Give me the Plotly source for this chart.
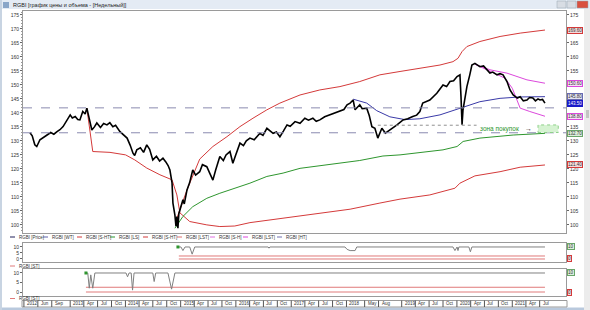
import plotly.graph_objects as go

W, H = 590, 310


def px(x):
    return x / W


def py(y):
    return 1 - y / H


# ---------------- data ----------------
price_dates = [
    "2012-04-10", "2012-04-25", "2012-05-12", "2012-05-25", "2012-06-15", "2012-07-05", "2012-08-01", "2012-08-25",
    "2012-09-15", "2012-10-06", "2012-10-25", "2012-11-15", "2012-12-05",
    "2013-01-01", "2013-01-15", "2013-02-03", "2013-02-20", "2013-03-06", "2013-03-25", "2013-04-10", "2013-04-21",
    "2013-05-05", "2013-05-24", "2013-06-10", "2013-06-26", "2013-07-20", "2013-08-10", "2013-09-01", "2013-09-20",
    "2013-10-10", "2013-10-28", "2013-11-26", "2013-12-15",
    "2014-01-12", "2014-02-01", "2014-02-20", "2014-03-03", "2014-03-17", "2014-04-10", "2014-05-01", "2014-05-22",
    "2014-06-10", "2014-07-01", "2014-07-25", "2014-08-15", "2014-09-06", "2014-09-25", "2014-10-10", "2014-10-22",
    "2014-11-05", "2014-11-11", "2014-11-24", "2014-12-01", "2014-12-07", "2014-12-10", "2014-12-14", "2014-12-20",
    "2014-12-27",
    "2015-01-16", "2015-01-25", "2015-02-12", "2015-03-01", "2015-03-22", "2015-04-10", "2015-05-07", "2015-05-25",
    "2015-06-23", "2015-07-12", "2015-08-02", "2015-08-20", "2015-09-17", "2015-10-10", "2015-10-28", "2015-11-23",
    "2015-12-12", "2015-12-28",
    "2016-01-28", "2016-02-20", "2016-03-10", "2016-04-03", "2016-05-01", "2016-06-08", "2016-06-28", "2016-07-24",
    "2016-08-15", "2016-09-03", "2016-09-25", "2016-10-18", "2016-11-10", "2016-12-04", "2016-12-25",
    "2017-01-26", "2017-02-28", "2017-04-01", "2017-04-25", "2017-05-24", "2017-06-15", "2017-07-09", "2017-08-10",
    "2017-09-14", "2017-10-15", "2017-11-19", "2017-12-15",
    "2018-01-05", "2018-01-25", "2018-02-14", "2018-02-27", "2018-03-30", "2018-04-15", "2018-05-15", "2018-06-01",
    "2018-06-18", "2018-07-08", "2018-07-27", "2018-08-23", "2018-09-15", "2018-10-15", "2018-11-10", "2018-12-01",
    "2019-01-10", "2019-02-10", "2019-03-15", "2019-04-10", "2019-05-01", "2019-05-20", "2019-07-06", "2019-08-21",
    "2019-10-01", "2019-10-25", "2019-11-16", "2019-12-10",
    "2020-01-02", "2020-01-21", "2020-01-28", "2020-02-04", "2020-02-10", "2020-02-17", "2020-03-07", "2020-03-26",
    "2020-04-09", "2020-04-29", "2020-06-01", "2020-06-25", "2020-07-17", "2020-08-06", "2020-08-25", "2020-09-22",
    "2020-10-12", "2020-11-01", "2020-11-27", "2020-12-17",
    "2021-01-07", "2021-02-03", "2021-02-22", "2021-03-15", "2021-04-08", "2021-04-25", "2021-05-17", "2021-06-03",
    "2021-06-20", "2021-07-03", "2021-07-20", "2021-08-05",
]
price_vals = [
    132.9, 131.8, 128.6, 128.0, 130.4, 131.0, 132.1, 133.0, 132.4, 133.3, 134.0, 135.1, 137.0,
    139.3, 138.2, 138.7, 137.6, 137.5, 140.5, 139.6, 141.7, 138.5, 133.9, 135.0, 136.4, 134.8, 136.2, 135.7, 136.5,
    135.1, 135.6, 133.3, 132.5,
    131.0, 128.5, 125.6, 124.8, 126.8, 127.5, 125.9, 128.6, 127.0, 123.2, 124.5, 122.8, 123.8, 122.5, 121.2, 119.6,
    115.0, 107.8, 103.5, 99.5, 103.0, 100.7, 98.8, 104.0, 105.4,
    109.0, 107.5, 112.5, 115.0, 119.6, 117.8, 119.0, 121.5, 120.8, 118.5, 116.0, 119.5, 124.4, 123.0, 125.0, 126.2,
    122.0, 124.5,
    129.2, 128.3, 130.0, 131.0, 130.4, 132.7, 132.0, 134.5, 133.6, 132.7, 133.2, 131.5, 133.5, 135.7, 135.2,
    136.9, 136.3, 138.1, 137.4, 138.1, 137.0, 137.5, 138.6, 139.3, 139.8, 140.5, 141.2,
    142.9, 143.5, 144.6, 141.1, 142.9, 141.5, 141.7, 139.0, 135.1, 134.5, 131.0, 134.5, 132.8, 133.9, 134.8, 135.7,
    137.5, 137.9, 138.7, 139.2, 140.5, 143.5, 144.6, 147.0, 150.0, 149.4, 151.2, 151.5,
    153.0, 153.6, 145.8, 135.8, 141.0, 143.5, 149.4, 153.6, 157.1, 157.7, 156.5, 156.8, 155.4, 154.2, 154.6, 153.6,
    154.0, 153.6, 151.2, 148.2,
    146.4, 145.3, 145.8, 144.3, 144.6, 145.5, 145.3, 144.3, 145.0, 144.6, 144.8, 143.5,
]

red_up_dates = ["2014-12-01", "2015-02-12", "2015-05-07", "2015-08-02", "2015-11-03", "2016-01-28", "2016-04-23",
                "2016-07-24", "2016-10-18", "2017-02-28", "2017-07-09", "2017-11-19", "2018-03-30", "2018-08-10",
                "2018-12-21", "2019-05-01", "2019-09-11", "2019-12-06", "2020-01-08", "2020-02-04", "2020-03-07",
                "2020-06-01", "2020-10-12", "2021-02-22", "2021-08-05"]
red_up_vals = [101.5, 112.5, 123.5, 128.0, 131.5, 135.1, 138.1, 141.1, 143.5, 146.4, 148.2, 149.4, 151.2, 153.6,
               154.8, 156.0, 157.1, 158.3, 159.5, 161.9, 163.7, 165.5, 167.3, 168.5, 169.6]

red_lo_dates = ["2013-04-21", "2013-05-30", "2013-09-21", "2014-01-02", "2014-03-04", "2014-05-22", "2014-08-17",
                "2014-11-05", "2014-12-07", "2014-12-27", "2015-03-02", "2015-06-23", "2015-09-17", "2015-12-25",
                "2016-04-03", "2017-02-28", "2018-01-25", "2018-08-10", "2018-12-21", "2019-07-06", "2019-12-19",
                "2020-01-21", "2020-04-29", "2020-10-12", "2021-02-22", "2021-08-05"]
red_lo_vals = [141.7, 126.2, 125.9, 125.0, 123.2, 120.3, 117.9, 116.1, 110.7, 104.3, 101.2, 100.0, 99.4, 99.6,
               100.8, 103.2, 105.6, 107.8, 109.2, 110.7, 113.1, 114.9, 117.5, 119.0, 120.6, 121.4]

green_dates = ["2014-11-24", "2015-01-16", "2015-03-22", "2015-06-23", "2015-09-17", "2015-11-23", "2016-04-03",
               "2016-07-24", "2016-11-08", "2017-02-28", "2017-10-04", "2018-01-25", "2018-03-30", "2018-08-30",
               "2018-12-21", "2019-10-01", "2020-01-02", "2020-02-11", "2020-06-01", "2021-01-07", "2021-08-05"]
green_vals = [98.8, 103.0, 106.5, 109.5, 111.3, 112.5, 114.9, 117.3, 118.5, 120.2, 121.6, 122.4, 123.0, 124.6,
              125.0, 126.8, 128.0, 129.8, 131.0, 132.1, 132.7]

blue_dates = ["2018-02-14", "2018-05-15", "2018-07-20", "2018-10-15", "2019-01-23", "2019-05-01", "2019-09-11",
              "2020-01-21", "2020-06-01", "2020-10-12", "2021-02-22", "2021-08-05"]
blue_vals = [144.9, 143.5, 140.8, 138.6, 137.6, 137.9, 139.3, 141.7, 144.0, 145.2, 145.7, 145.8]

mag_up_dates = ["2020-04-29", "2020-08-06", "2020-11-27", "2021-04-08", "2021-08-05"]
mag_up_vals = [157.4, 155.4, 154.2, 151.8, 150.6]

mag_lo_dates = ["2020-04-29", "2020-08-06", "2020-11-14", "2021-01-01", "2021-02-03", "2021-02-22", "2021-04-27",
                "2021-08-05"]
mag_lo_vals = [157.4, 155.0, 152.4, 148.8, 144.6, 141.7, 140.5, 138.8]

dash_levels = [141.8, 132.9]
dotted_level = 135.6
dotted_dates = ["2018-07-27", "2020-05-10"]
buy_zone_dates = ["2021-06-20", "2021-11-01"]
buy_zone_levels = [133.0, 135.7]
buy_zone_text = "зона покупок"
buy_text_date = "2020-10-06"
arrow_date = "2021-04-15"

main_ticks = [100, 105, 110, 115, 120, 125, 130, 135, 140, 145, 150, 155, 160, 165, 170, 175]
right_ticks = [100, 105, 110, 115, 120, 125, 130, 135, 155, 160, 165, 175]

p2_dates = ["2014-12-14", "2015-01-03", "2015-01-16", "2015-01-30", "2015-03-02", "2015-03-18", "2015-04-04",
            "2016-08-01", "2016-08-07", "2016-08-13", "2017-12-22", "2018-01-05", "2018-01-25", "2018-02-27",
            "2018-03-10", "2019-12-06", "2019-12-19", "2020-01-02", "2020-01-08", "2020-01-14", "2020-03-20",
            "2020-03-30", "2020-04-09", "2021-08-05"]
p2_vals = [10, 10, 7, 10, 10, 4, 10, 10, 9, 10, 10, 8, 7, 7, 10, 10, 7, 10, 7, 10, 10, 6, 10, 10]
p2_red_dates = ["2014-12-20", "2021-08-05"]
p2_red_levels = [2.5, 0]

p3_dates = ["2013-04-15", "2013-04-27", "2013-05-07", "2013-05-17", "2013-05-30", "2013-06-13", "2014-01-05",
            "2014-01-15", "2014-01-25", "2014-02-08", "2014-02-17", "2014-02-27", "2014-07-01", "2014-07-10",
            "2014-07-20", "2014-10-09", "2014-11-02", "2014-11-24", "2021-08-05"]
p3_vals = [10, 10, 2, 9, 2, 10, 10, 8, 10, 10, 1, 10, 10, 5.5, 10, 10, 1.5, 10, 10]
p3_red_dates = ["2013-04-15", "2021-08-05"]
p3_red_levels = [2.5, 0]

x_tick_dates = ["2012-03-01", "2012-06-01", "2012-09-01", "2013-01-01", "2013-04-01", "2013-07-01", "2013-10-01",
                "2014-01-01", "2014-04-01", "2014-07-01", "2014-10-01", "2015-01-01", "2015-04-01", "2015-07-01",
                "2015-10-01", "2016-01-01", "2016-04-01", "2016-07-01", "2016-10-01", "2017-01-01", "2017-04-01",
                "2017-07-01", "2017-10-01", "2018-01-01", "2018-05-01", "2018-08-01", "2019-01-01", "2019-04-01",
                "2019-07-01", "2019-10-01", "2020-01-01", "2020-04-01", "2020-07-01", "2020-10-01", "2021-01-01",
                "2021-04-01", "2021-07-01"]
x_tick_text = ["2012", "Jun", "Sep", "2013", "Apr", "Jul", "Oct", "2014", "Apr", "Jul", "Oct", "2015", "Apr", "Jul",
               "Oct", "2016", "Apr", "Jul", "Oct", "2017", "Apr", "Jul", "Oct", "2018", "May", "Aug", "2019", "Apr",
               "Jul", "Oct", "2020", "Apr", "Jul", "Oct", "2021", "Apr", "Jul"]
x_range = ["2012-02-24", "2021-12-22"]

legend_names = ["RGBI [Price]", "RGBI [WT]", "RGBI [S-HT]", "RGBI [LS]", "RGBI [S-HT]", "RGBI [LST]",
                "RGBI [S-H]", "RGBI [LST]", "RGBI [HT]"]
panel_legend = "RGBI [ST]"
title_text = "RGBI [график цены и объема - [Недельный]]"

# ---------------- style ----------------
RED = "#d43a3a"
GREEN = "#2e962e"
BLUE = "#3a3aa8"
MAG = "#dc48dc"
NAVY = "#20205a"
GREYLINE = "#808080"
AX = "#9a9a9a"
FONT = "Liberation Sans"
legend_colors = [NAVY, "#6060a8", RED, GREEN, RED, "#e07070", "#e070e0", MAG, "#7070b0"]
legend_x = [10, 43, 77, 110, 143, 177, 210, 243, 277]

fig = go.Figure()


def line(xs, ys, color, width=1.0, xa="x", ya="y"):
    fig.add_trace(go.Scatter(x=xs, y=ys, mode="lines", line=dict(color=color, width=width),
                             xaxis=xa, yaxis=ya, hoverinfo="skip", showlegend=False))


line(red_lo_dates, red_lo_vals, RED)
line(red_up_dates, red_up_vals, RED)
line(green_dates, green_vals, GREEN)
line(blue_dates, blue_vals, BLUE)
line(mag_up_dates, mag_up_vals, MAG)
line(mag_lo_dates, mag_lo_vals, MAG)
line(price_dates, price_vals, "#000000", 1.6)
fig.add_trace(go.Scatter(x=[price_dates[0]], y=[price_vals[0]], mode="markers", marker=dict(opacity=0),
                         xaxis="x", yaxis="y2", hoverinfo="skip", showlegend=False))

# panel 2
for lvl in p2_red_levels:
    line(p2_red_dates, [lvl, lvl], "#e07a7a", 1, "x2", "y3")
line(p2_dates, p2_vals, GREYLINE, 1, "x2", "y3")
fig.add_trace(go.Scatter(x=[p2_dates[0]], y=[p2_vals[0]], mode="markers",
                         marker=dict(color=GREEN, size=3, symbol="square"),
                         xaxis="x2", yaxis="y3", hoverinfo="skip", showlegend=False))
# panel 3
for lvl in p3_red_levels:
    line(p3_red_dates, [lvl, lvl], "#e07a7a", 1, "x3", "y4")
line(p3_dates, p3_vals, GREYLINE, 1, "x3", "y4")
fig.add_trace(go.Scatter(x=[p3_dates[0]], y=[p3_vals[0]], mode="markers",
                         marker=dict(color=GREEN, size=3, symbol="square"),
                         xaxis="x3", yaxis="y4", hoverinfo="skip", showlegend=False))

tickfont = dict(size=5, color="#333333", family=FONT)
base = dict(showgrid=False, zeroline=False, showline=True, linecolor=AX, linewidth=1)
xdom = [px(23), px(566)]

fig.update_layout(
    width=W, height=H, margin=dict(l=0, r=0, t=0, b=0),
    paper_bgcolor="white", plot_bgcolor="white", showlegend=False,
    font=dict(family=FONT),
    xaxis=dict(domain=xdom, range=x_range, type="date", showticklabels=False, ticks="",
               mirror=True, anchor="y", **base),
    yaxis=dict(domain=[py(233), py(11)], range=[97.1, 176.4], tickvals=main_ticks, ticks="outside",
               ticklen=2, tickcolor="#666", tickfont=tickfont, anchor="x",
               minor=dict(ticks="outside", ticklen=1, dtick=1, tickcolor="#999"), **base),
    yaxis2=dict(overlaying="y", side="right", range=[97.1, 176.4], tickvals=right_ticks, ticks="outside",
                ticklen=2, tickcolor="#666", tickfont=tickfont, anchor="x", **base),
    xaxis2=dict(domain=xdom, range=x_range, type="date", showticklabels=False, ticks="",
                mirror=True, anchor="y3", matches="x", **base),
    yaxis3=dict(domain=[py(262), py(243)], range=[-2.5, 13.3], tickvals=[0, 5, 10], ticks="outside",
                ticklen=2, tickcolor="#666", tickfont=tickfont, anchor="x2", mirror=True, **base),
    xaxis3=dict(domain=xdom, range=x_range, type="date", showticklabels=False, ticks="",
                mirror=True, anchor="y4", matches="x", **base),
    yaxis4=dict(domain=[py(296), py(269)], range=[-2.1, 12.1], tickvals=[0, 5, 10], ticks="outside",
                ticklen=2, tickcolor="#666", tickfont=tickfont, anchor="x3", mirror=True, **base),
)

shapes = []
annotations = []

# window chrome
shapes.append(dict(type="rect", xref="paper", yref="paper", x0=0, x1=1, y0=py(9), y1=1,
                   fillcolor="#e4ebf4", line=dict(width=0), layer="below"))
shapes.append(dict(type="rect", xref="paper", yref="paper", x0=px(3), x1=px(9), y0=py(8), y1=py(2),
                   fillcolor="#8aa6c8", line=dict(width=0)))
for bx0, bx1, col in [(557, 566, "#d8dde4"), (567, 576, "#d8dde4"), (577, 588, "#d9503f")]:
    shapes.append(dict(type="rect", xref="paper", yref="paper", x0=px(bx0), x1=px(bx1), y0=py(8), y1=py(1),
                       fillcolor=col, line=dict(color="#9aa4b0", width=0.5)))
shapes.append(dict(type="rect", xref="paper", yref="paper", x0=0, x1=1, y0=0, y1=py(307.5),
                   fillcolor="#b9c9dd", line=dict(width=0)))
shapes.append(dict(type="rect", xref="paper", yref="paper", x0=0, x1=px(2), y0=0, y1=1,
                   fillcolor="#c8d4e2", line=dict(width=0)))
shapes.append(dict(type="rect", xref="paper", yref="paper", x0=px(584), x1=1, y0=0, y1=py(9),
                   fillcolor="#ececec", line=dict(width=0)))
shapes.append(dict(type="rect", xref="paper", yref="paper", x0=px(586), x1=px(589), y0=py(118), y1=py(110),
                   fillcolor="#c4c4c4", line=dict(width=0)))
annotations.append(dict(x=px(11), y=py(5), xref="paper", yref="paper", text=title_text, showarrow=False,
                        xanchor="left", yanchor="middle", font=dict(size=5.5, color="#222", family=FONT)))

# horizontal dashed levels
for lvl in dash_levels:
    shapes.append(dict(type="line", xref="paper", yref="y", x0=xdom[0], x1=xdom[1], y0=lvl, y1=lvl,
                       line=dict(color="#8a8ab0", width=1, dash="dash")))
# dotted level
shapes.append(dict(type="line", xref="x", yref="y", x0=dotted_dates[0], x1=dotted_dates[1],
                   y0=dotted_level, y1=dotted_level, line=dict(color="#909090", width=1, dash="dot")))
# buy zone
shapes.append(dict(type="rect", xref="x", yref="y", x0=buy_zone_dates[0], x1=buy_zone_dates[1],
                   y0=buy_zone_levels[0], y1=buy_zone_levels[1], fillcolor="#d6f3d2",
                   line=dict(color="#8fd08a", width=1, dash="dot")))
annotations.append(dict(x=buy_text_date, y=(buy_zone_levels[0] + buy_zone_levels[1]) / 2, xref="x", yref="y",
                        text=buy_zone_text, showarrow=False, xanchor="center", yanchor="middle",
                        font=dict(size=6.5, color="#2e962e", family=FONT)))
annotations.append(dict(x=arrow_date, y=(buy_zone_levels[0] + buy_zone_levels[1]) / 2, xref="x", yref="y",
                        text="→", showarrow=False, xanchor="center", yanchor="middle",
                        font=dict(size=7, color="#222", family=FONT)))

# right value labels
value_labels = [
    (red_up_vals[-1], "#f6dada", RED, "#333"),
    (mag_up_vals[-1], "#f7e0f7", MAG, "#333"),
    (blue_vals[-1], "#e2e2f2", "#6a6ab0", "#333"),
    (price_vals[-1], "#1a1ac8", "#1a1ac8", "white"),
    (mag_lo_vals[-1], "#f7e0f7", MAG, "#333"),
    (green_vals[-1], "#dcefdc", "#6aa56a", "#333"),
    (red_lo_vals[-1], "#f6dada", RED, "#333"),
]
for v, bg, bc, fc in value_labels:
    annotations.append(dict(x=px(567), y=v, xref="paper", yref="y", text=f"{v:.2f}", showarrow=False,
                            xanchor="left", yanchor="middle", bgcolor=bg, bordercolor=bc, borderwidth=1,
                            borderpad=0, font=dict(size=4.5, color=fc, family=FONT)))
# panel right labels
for ya, yv, bg, bc, t in [("y3", 10, "#dcefdc", "#6aa56a", "10"), ("y3", 0, "#f6dada", RED, "0"),
                          ("y4", 10, "#dcefdc", "#6aa56a", "10"), ("y4", 0, "#f6dada", RED, "0")]:
    annotations.append(dict(x=px(567), y=yv, xref="paper", yref=ya, text=t, showarrow=False,
                            xanchor="left", yanchor="middle", bgcolor=bg, bordercolor=bc, borderwidth=1,
                            borderpad=0, font=dict(size=4.5, color="#333", family=FONT)))

# main legend row
for lx, name, col in zip(legend_x, legend_names, legend_colors):
    shapes.append(dict(type="line", xref="paper", yref="paper", x0=px(lx), x1=px(lx + 5), y0=py(237),
                       y1=py(237), line=dict(color=col, width=1)))
    annotations.append(dict(x=px(lx + 7), y=py(237), xref="paper", yref="paper", text=name, showarrow=False,
                            xanchor="left", yanchor="middle", font=dict(size=4.5, color="#333", family=FONT)))
# panel legends
for ly in [266, 298.5]:
    shapes.append(dict(type="line", xref="paper", yref="paper", x0=px(10), x1=px(15), y0=py(ly), y1=py(ly),
                       line=dict(color="#e07a7a", width=1)))
    annotations.append(dict(x=px(17), y=py(ly), xref="paper", yref="paper", text=panel_legend, showarrow=False,
                            xanchor="left", yanchor="middle", font=dict(size=4.5, color="#333", family=FONT)))

# bottom time scale
shapes.append(dict(type="rect", xref="paper", yref="paper", x0=px(22), x1=px(567), y0=py(307), y1=py(300.5),
                   fillcolor="white", line=dict(color=AX, width=1)))
for d, t in zip(x_tick_dates, x_tick_text):
    shapes.append(dict(type="line", xref="x", yref="paper", x0=d, x1=d, y0=py(307), y1=py(300.5),
                       line=dict(color="#555", width=1)))
    annotations.append(dict(x=d, y=py(303.8), xref="x", yref="paper", text=t, showarrow=False, xanchor="left",
                            yanchor="middle", xshift=1, font=dict(size=4.5, color="#333", family=FONT)))

fig.update_layout(shapes=shapes, annotations=annotations)
fig.write_html("out.html")
